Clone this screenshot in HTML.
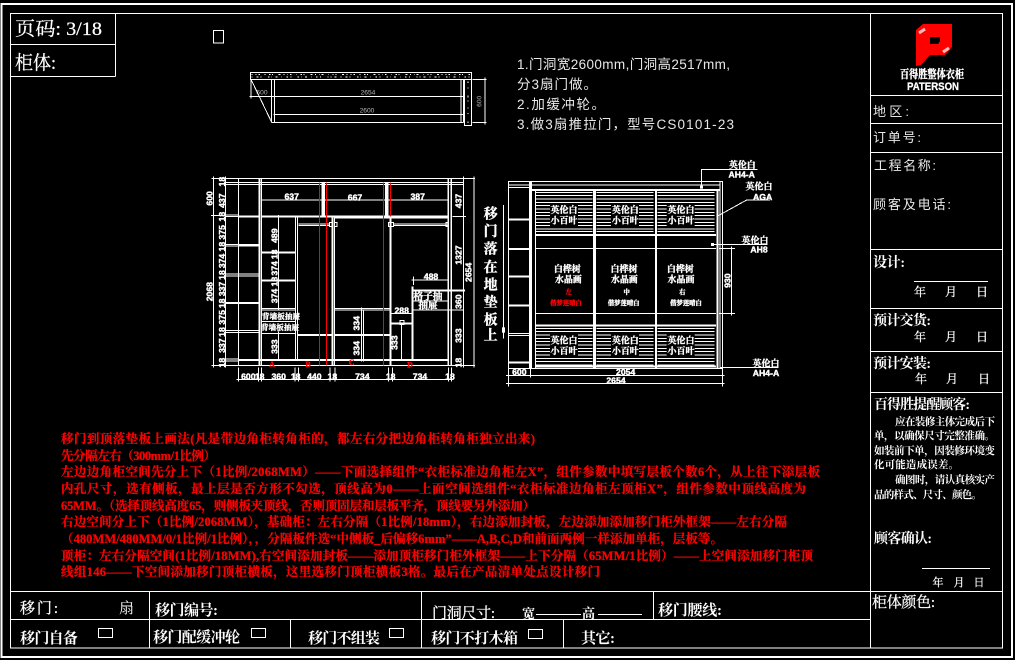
<!DOCTYPE html>
<html>
<head>
<meta charset="utf-8">
<style>
html,body{margin:0;padding:0;background:#000;width:1015px;height:660px;overflow:hidden}
svg{display:block}
text{fill:#fff;font-family:"Liberation Serif","Noto Serif CJK SC",serif}
.s{font-family:"Liberation Sans","Noto Sans CJK SC",sans-serif;fill:#e8e8e8}
.b{font-weight:bold}
.r text{fill:#f00;stroke:#f00;stroke-width:.25;font-weight:bold;font-size:12.5px}
.d text{font-family:"Liberation Sans",sans-serif;font-weight:bold;font-size:26px;text-anchor:middle;dominant-baseline:central;stroke:#fff;stroke-width:1.2}
.c text{font-weight:bold;text-anchor:middle;dominant-baseline:central;stroke:#fff;stroke-width:1}
.c text.rf{fill:#f00;stroke:#f00}
.h text{stroke:#fff;stroke-width:.25}
.l{stroke:#fff;stroke-width:1;fill:none;shape-rendering:crispEdges}
.e{shape-rendering:crispEdges}
</style>
</head>
<body>
<svg width="1015" height="660" viewBox="0 0 1015 660" xmlns="http://www.w3.org/2000/svg">
<rect width="1015" height="660" fill="#000"/>
<defs>
<path id="lv1" class="e" d="M167 127H337M167 137H337M167 147H337M167 157H337M167 167H337M167 177H337M167 187H337M167 197H337M167 207H337M167 217H337M167 227H337M167 237H337M167 245H337" stroke="#fff" stroke-width="3"/>
<path id="lv2" class="e" d="M167 535H337M167 545H337M167 555H337M167 565H337M167 575H337M167 585H337M167 595H337M167 605H337M167 615H337M167 625H337M167 635H337M167 645H337" stroke="#fff" stroke-width="3"/>
</defs>

<!-- frames -->
<rect x="1.5" y="4" width="1010.5" height="653" class="l" style="stroke-width:2"/>
<rect x="10.5" y="13.5" width="992" height="634.5" class="l"/>
<path class="l" d="M10.5 44.5H115.5M10.5 76.5H115.5M115.5 13.5V76.5"/>
<rect x="213.5" y="30.5" width="10" height="12.5" class="l"/>
<path class="l" d="M870.5 13.5V648M870.5 95.5H1002.5M870.5 123.5H1002.5M870.5 152.5H1002.5M870.5 249.5H1002.5M870.5 308.5H1002.5M870.5 351.5H1002.5M870.5 392.5H1002.5M870.5 591.5H1002.5"/>
<path class="l" d="M10.5 591.5H870.5M10.5 619.5H870.5M149.5 591.5V648M290.5 619.5V648M421.5 591.5V648M653.5 591.5V619.5M563.5 619.5V648"/>

<!-- top-left -->
<g class="h">
<text x="15" y="35" font-size="19" textLength="87" lengthAdjust="spacingAndGlyphs">页码: 3/18</text>
<text x="15" y="69" font-size="19" textLength="41" lengthAdjust="spacingAndGlyphs">柜体:</text>
</g>

<!-- notes top -->
<text class="s" x="517" y="69" font-size="13.5" textLength="213">1.门洞宽2600mm,门洞高2517mm,</text>
<text class="s" x="517" y="89" font-size="13.5" textLength="80">分3扇门做。</text>
<text class="s" x="517" y="109" font-size="13.5" textLength="88">2.加缓冲轮。</text>
<text class="s" x="517" y="129" font-size="13.5" textLength="217">3.做3扇推拉门，型号CS0101-23</text>

<!-- zoom group 1 -->
<g transform="translate(200 60) scale(.33333)">
<g stroke="#fff" stroke-width="3" fill="none" class="e">
<!-- plan -->
<rect x="151" y="37" width="664" height="21"/>
<path d="M155 44H810" stroke-dasharray="3 9 2 6 5 14 2 11 4 5 3 17 6 8"/>
<path d="M155 51H810" stroke-dasharray="2 13 5 7 3 19 4 6 2 10 6 12"/>
<path d="M215 58V187M223 58V187M783 58V187M790 58V187M215 187H790"/>
<rect x="793" y="58" width="22" height="139"/>
<path d="M804 65V190" stroke-dasharray="4 13 3 22 5 9 3 18"/>
<path d="M153 58L215 187M153 58V115M148 109H793M220 163H793M818 58H860M818 187H860M855 52V193"/>

<!-- elevation -->
<rect x="115" y="355" width="640" height="562"/>
<path d="M35 355H115M35 917H115M78 367H790M78 374H790M183 420H745M755 355H825M755 917H825"/>
<path d="M40 350V922M77 350V922M790 350V922M822 350V922M33 467H78M758 470H798"/>
<path d="M178.500 355V917" stroke-width="7"/>
<path d="M184.500 355V917"/>
<path d="M745 355V917M753 355V917" stroke-width="4"/>
<path d="M115 470H175M183 470H745" stroke-width="6"/>
<path d="M78 465H115M78 470H115M78 553H175M78 558H175M78 642H175M78 648H175M78 727H175M78 731H175M78 812H175M78 818H175M78 897H115M78 903H115"/>
<path d="M115 557H175M115 729H175" stroke-width="6"/>
<path d="M115 900H745" stroke-width="6"/>
<path d="M370 367V470M560 367V470" stroke-width="10"/>
<!-- A -->
<path d="M287 470V900M292 470V900"/>
<path d="M183 578H287M183 662H287" stroke-width="6"/>
<path d="M183 745H287M183 750H287M183 784H287M183 820H287M235 465V752M235 815V900M229 578H240M229 662H240"/>
<!-- B -->
<path d="M295 492H388M295 497H388"/>
<path d="M292 825H395" stroke-width="6"/>
<path d="M397 470V917M403 470V917" stroke-width="4"/>
<rect x="388" y="488" width="8" height="12"/><rect x="403" y="488" width="8" height="12"/>
<!-- C -->
<path d="M403 745H572M403 750H572M485 742V905M490 750V905"/>
<path d="M403 825H572" stroke-width="6"/>
<path d="M572 470V917" stroke-width="6"/>
<path d="M403 474H745"/>
<path d="M582 492H742M582 497H742"/>
<rect x="566" y="488" width="14" height="12"/><rect x="738" y="488" width="6" height="12"/>
<!-- D -->
<path d="M575 760H640M605 790V900"/>
<path d="M575 790H640" stroke-width="6"/>
<rect x="600" y="781" width="12" height="13"/>
<path d="M638 680V900" stroke-width="6"/>
<path d="M638 692H795" stroke-width="6"/>
<path d="M640 723H745M640 750H790M635 660H745M640 650V675"/>
<!-- bottom dims -->
<path d="M110 958H760M115 922V965M175 922V965M185 922V965M285 922V965M295 922V965M390 922V965M405 922V965M566 922V965M578 922V965M745 922V965M755 922V965"/>
<!-- red -->
<path d="M358 367V917M380 367V917M550 367V917M571 367V470" stroke="#f00" stroke-width="3"/>
</g>
<g class="d">
<text x="275" y="410">637</text><text x="465" y="412">667</text><text x="653" y="410">387</text>
<text x="145" y="950">600</text><text x="179" y="950">18</text><text x="236" y="950">360</text><text x="287" y="950">18</text><text x="343" y="950">440</text><text x="397" y="950">18</text><text x="487" y="950">734</text><text x="572" y="950">18</text><text x="660" y="950">734</text><text x="750" y="950">18</text>
<text x="693" y="650">488</text><text x="605" y="752">288</text>
<text transform="rotate(-90 28 415)" x="28" y="415">600</text>
<text transform="rotate(-90 28 695)" x="28" y="695">2068</text>
<text transform="rotate(-90 66 365)" x="66" y="365">18</text>
<text transform="rotate(-90 66 422)" x="66" y="422">437</text>
<text transform="rotate(-90 66 470)" x="66" y="470">18</text>
<text transform="rotate(-90 66 517)" x="66" y="517">375</text>
<text transform="rotate(-90 66 560)" x="66" y="560">18</text>
<text transform="rotate(-90 66 603)" x="66" y="603">374</text>
<text transform="rotate(-90 66 645)" x="66" y="645">18</text>
<text transform="rotate(-90 66 687)" x="66" y="687">337</text>
<text transform="rotate(-90 66 730)" x="66" y="730">18</text>
<text transform="rotate(-90 66 772)" x="66" y="772">375</text>
<text transform="rotate(-90 66 816)" x="66" y="816">18</text>
<text transform="rotate(-90 66 857)" x="66" y="857">337</text>
<text transform="rotate(-90 66 908)" x="66" y="908">18</text>
<text transform="rotate(-90 775 423)" x="775" y="423">437</text>
<text transform="rotate(-90 775 585)" x="775" y="585">1327</text>
<text transform="rotate(-90 775 725)" x="775" y="725">360</text>
<text transform="rotate(-90 775 827)" x="775" y="827">333</text>
<text transform="rotate(-90 775 908)" x="775" y="908">18</text>
<text transform="rotate(-90 805 637)" x="805" y="637">2654</text>
<text transform="rotate(-90 223 527)" x="223" y="527">489</text>
<text transform="rotate(-90 223 625)" x="223" y="625">374</text>
<text transform="rotate(-90 223 583)" x="223" y="583">18</text>
<text transform="rotate(-90 223 665)" x="223" y="665">18</text>
<text transform="rotate(-90 223 708)" x="223" y="708">374</text>
<text transform="rotate(-90 223 860)" x="223" y="860">333</text>
<text transform="rotate(-90 470 790)" x="470" y="790">334</text>
<text transform="rotate(-90 470 865)" x="470" y="865">334</text>
<text transform="rotate(-90 583 848)" x="583" y="848">333</text>
</g>
<g class="d" style="opacity:.7">
<text x="186" y="99" style="font-weight:normal;font-size:20px;stroke-width:0">600</text>
<text x="504" y="99" style="font-weight:normal;font-size:20px;stroke-width:0">2654</text>
<text x="501" y="153" style="font-weight:normal;font-size:20px;stroke-width:0">2600</text>
<text transform="rotate(-90 840 124)" x="840" y="124" style="font-weight:normal;font-size:20px;stroke-width:0">600</text>
</g>
<g class="c">
<text x="243" y="769" font-size="23">背墙板抽屉</text>
<text x="240" y="803" font-size="23">背墙板抽屉</text>
<text x="684" y="711" font-size="29">格子抽</text>
<text x="684" y="738" font-size="29">抽屉</text>
</g>
<g class="c" font-size="42">
<text x="872" y="465">移</text><text x="872" y="517">门</text><text x="872" y="570">落</text><text x="872" y="625">在</text><text x="872" y="678">地</text><text x="872" y="730">垫</text><text x="872" y="783">板</text><text x="872" y="830">上</text>
</g>
<g class="c" font-size="24" style="font-family:'Liberation Sans'">
<text class="rf" x="216" y="913">A</text><text class="rf" x="324" y="913">B</text><text class="rf" x="455" y="908">C</text><text class="rf" x="630" y="915">D</text>
</g>
</g>

<!-- zoom group 2 -->
<g transform="translate(480 150) scale(.33333)">
<g stroke="#fff" stroke-width="3" fill="none" class="e">
<rect x="85" y="95" width="643" height="560"/>
<path d="M85 105H720M85 112H148M155 105H720"/>
<path d="M152 95V655" stroke-width="9"/>
<path d="M155 120H720" stroke-width="6"/>
<path d="M85 208H148M85 297H148M85 380H148M85 467H148M85 637H148" stroke-width="6"/>
<path d="M85 550H148M85 556H148"/>
<path d="M166 120V655M720 95V655"/>
<path d="M343 120V655" stroke-width="9"/>
<path d="M528 120V655" stroke-width="6"/>
<path d="M712 120V655" stroke-width="6"/>
<path d="M167 255H708M167 527H708M167 650H708" stroke-width="6"/>
<path d="M167 295H708M167 490H708"/>
<path d="M665 110V58H833M697 283H862M870 150H800L715 197M720 652H895M717 295H765M717 490H765M755 290V496"/>
<path d="M85 677H728M85 700H728M85 655V710M152 655V682M728 655V710M78 677H92M78 700H92M722 677H734M722 700H734"/>
<path d="M70 165V565"/>
</g>
<use href="#lv1"/><use href="#lv1" x="183"/><use href="#lv1" x="366"/>
<use href="#lv2"/><use href="#lv2" x="183"/><use href="#lv2" x="366"/>
<rect x="660" y="107" width="9" height="9" fill="#fff"/>
<rect x="693" y="279" width="9" height="9" fill="#fff"/>
<rect x="66" y="532" width="9" height="16" fill="#fff"/>
<g fill="#000">
<rect x="210" y="160" width="84" height="68"/><rect x="393" y="160" width="84" height="68"/><rect x="560" y="160" width="84" height="68"/>
<rect x="210" y="552" width="84" height="68"/><rect x="393" y="552" width="84" height="68"/><rect x="560" y="552" width="84" height="68"/>
</g>
<g class="c" font-size="27">
<text x="252" y="180">英伦白</text><text x="252" y="212">小百叶</text>
<text x="436" y="180">英伦白</text><text x="436" y="212">小百叶</text>
<text x="603" y="180">英伦白</text><text x="603" y="212">小百叶</text>
<text x="252" y="572">英伦白</text><text x="252" y="603">小百叶</text>
<text x="436" y="572">英伦白</text><text x="436" y="603">小百叶</text>
<text x="603" y="572">英伦白</text><text x="603" y="603">小百叶</text>
<text x="262" y="357">白桦树</text><text x="265" y="389">水晶画</text>
<text x="432" y="357">白桦树</text><text x="433" y="389">水晶画</text>
<text x="601" y="357">白桦树</text><text x="603" y="389">水晶画</text>
<text x="787" y="45">英伦白</text><text x="837" y="110">英伦白</text><text x="825" y="272">英伦白</text><text x="858" y="640">英伦白</text>
</g>
<g class="c" font-size="19">
<text class="rf" x="266" y="427">左</text><text x="440" y="427">中</text><text x="607" y="427">右</text>
<text class="rf" x="258" y="460">偕梦莲晴白</text><text x="431" y="460">偕梦莲晴白</text><text x="618" y="460">偕梦莲晴白</text>
</g>
<g class="d">
<text x="785" y="74">AH4-A</text><text x="848" y="141">AGA</text><text x="837" y="299">AH8</text><text x="858" y="669">AH4-A</text>
<text x="118" y="666">600</text><text x="437" y="666">2054</text><text x="408" y="692">2654</text>
<text transform="rotate(-90 742 392)" x="742" y="392">930</text>
</g>
</g>

<!-- red notes -->
<g class="r">
<text x="61" y="443" textLength="474">移门到顶落垫板上画法(凡是带边角柜转角柜的，都左右分把边角柜转角柜独立出来)</text>
<text x="61" y="460" textLength="155">先分隔左右（300mm/1比例）</text>
<text x="61" y="476" textLength="759">左边边角柜空间先分上下（1比例/2068MM）——下面选择组件“衣柜标准边角柜左X”，组件参数中填写层板个数6个，从上往下添层板</text>
<text x="61" y="493" textLength="745">内孔尺寸，选有侧板，最上层是否方形不勾选，顶线高为0——上面空间选组件“衣柜标准边角柜左顶柜X”，组件参数中顶线高度为</text>
<text x="61" y="510" textLength="474">65MM。（选择顶线高度65，则侧板夹顶线，否则顶固层和层板平齐，顶线要另外添加）</text>
<text x="61" y="526" textLength="726">右边空间分上下（1比例/2068MM），基础柜：左右分隔（1比例/18mm），右边添加封板，左边添加添加移门柜外框架——左右分隔</text>
<text x="61" y="543" textLength="662">（480MM/480MM/0/1比例/1比例），，分隔板件选“中侧板_后偏移6mm”——A,B,C,D和前面两例一样添加单柜，层板等。</text>
<text x="61" y="560" textLength="752">顶柜：左右分隔空间(1比例/18MM),右空间添加封板——添加顶柜移门柜外框架——上下分隔（65MM/1比例）——上空间添加移门柜顶</text>
<text x="61" y="576" textLength="539">线组146——下空间添加移门顶柜横板，这里选移门顶柜横板3格。最后在产品清单处点设计移门</text>
</g>

<!-- logo -->
<path fill-rule="evenodd" fill="#f00" d="M916 30L923 24H952V47L945 55H930L921 65L916 66ZM930 37V44H938L940 41V37Z"/>
<path d="M919 33L925 29" stroke="#fbb" stroke-width="3"/>
<path d="M943 52L949 48" stroke="#fbb" stroke-width="3"/>
<text x="900" y="78" font-size="11.500" class="b" stroke="#fff" stroke-width=".4" textLength="64" lengthAdjust="spacingAndGlyphs">百得胜整体衣柜</text>
<text x="907" y="90" font-size="11" class="b" stroke="#fff" stroke-width=".3" style="font-family:'Liberation Sans'" textLength="52" lengthAdjust="spacingAndGlyphs">PATERSON</text>

<!-- right column text -->
<text class="s" x="873" y="116" font-size="13" textLength="36">地区:</text>
<text class="s" x="873" y="142" font-size="13" textLength="48">订单号:</text>
<text class="s" x="874" y="170" font-size="13" textLength="62">工程名称:</text>
<text class="s" x="873" y="209" font-size="13" textLength="78">顾客及电话:</text>
<g font-weight="bold">
<text x="873" y="267" font-size="14" textLength="32">设计:</text>
<text x="873" y="325" font-size="14" textLength="58">预计交货:</text>
<text x="873" y="368" font-size="14" textLength="58">预计安装:</text>
<text x="874" y="409" font-size="14" textLength="96">百得胜提醒顾客:</text>
<text x="874" y="543" font-size="14" textLength="58">顾客确认:</text>
</g>
<path class="l" d="M914 281.5H988M922 568.5H990"/>
<g class="h" font-size="12" text-anchor="middle">
<text x="920" y="296">年</text><text x="951" y="296">月</text><text x="982" y="296">日</text>
<text x="920" y="341">年</text><text x="951" y="341">月</text><text x="982" y="341">日</text>
<text x="921" y="383">年</text><text x="952" y="383">月</text><text x="984" y="383">日</text>
<text x="938" y="586" font-size="11">年</text><text x="959" y="586" font-size="11">月</text><text x="979" y="586" font-size="11">日</text>
</g>
<g font-size="10.500" font-weight="bold">
<text x="895" y="425" textLength="100">应在装修主体完成后下</text>
<text x="874" y="439" textLength="121">单，以确保尺寸完整准确。</text>
<text x="874" y="454" textLength="121">如装前下单，因装修环境变</text>
<text x="874" y="468" textLength="85">化可能造成误差。</text>
<text x="895" y="483" textLength="100">确图时，请认真核实产</text>
<text x="874" y="498" textLength="108">品的样式、尺寸、颜色。</text>
</g>
<text x="872" y="607" font-size="15" stroke="#fff" stroke-width=".25" textLength="63">柜体颜色:</text>

<!-- bottom rows -->
<g font-size="15">
<text x="20" y="613" textLength="38" stroke="#fff" stroke-width=".3">移门:</text>
<text x="119" y="613">扇</text>
<text x="155" y="615" textLength="63" font-weight="bold">移门编号:</text>
<text x="432" y="618" textLength="63" stroke="#fff" stroke-width=".3">门洞尺寸:</text>
<text x="522" y="618" font-size="13" font-weight="bold">宽</text>
<text x="582" y="618" font-size="13" font-weight="bold">高</text>
<text x="658" y="615" textLength="64" font-weight="bold">移门腰线:</text>
<text x="20" y="643" textLength="58" font-weight="bold">移门自备</text>
<text x="153" y="642" textLength="87" font-weight="bold">移门配缓冲轮</text>
<text x="308" y="643" textLength="72" font-weight="bold">移门不组装</text>
<text x="431" y="643" textLength="87" font-weight="bold">移门不打木箱</text>
<text x="581" y="643" textLength="34" font-weight="bold">其它:</text>
</g>
<path class="l" d="M536 614.5H581M598 614.5H642"/>
<rect x="98.5" y="628.5" width="14" height="9" class="l"/>
<rect x="251.5" y="628.5" width="14" height="9" class="l"/>
<rect x="389.5" y="628.5" width="14" height="9" class="l"/>
<rect x="528.5" y="629.5" width="14" height="9" class="l"/>
</svg>
</body>
</html>
